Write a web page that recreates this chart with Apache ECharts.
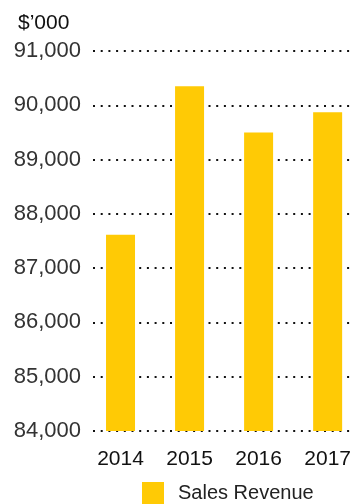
<!DOCTYPE html>
<html>
<head>
<meta charset="utf-8">
<script src="https://cdn.jsdelivr.net/npm/echarts@6/dist/echarts.min.js"></script>
<style>
html,body{margin:0;padding:0;background:#fff;}
#chart{width:354px;height:504px;}
</style>
</head>
<body>
<div id="chart"></div>
<script>
const categories = ['2014', '2015', '2016', '2017'];
const salesRevenue = [87615, 90350, 89500, 89870];
const seriesName = 'Sales Revenue';
const unitLabel = '$\u2019000';
const yMin = 84000, yMax = 91000, yStep = 1000;

const font = "'Liberation Sans', Arial, Helvetica, sans-serif";
const barData = categories.map((c, i) => [i, salesRevenue[i]]);
const chart = echarts.init(document.getElementById('chart'), null, {renderer: 'canvas'});
chart.setOption({
  animation: false,
  backgroundColor: '#fff',
  title: {
    text: unitLabel,
    left: 18, top: 13, padding: 0,
    textStyle: {fontFamily: font, fontSize: 21, fontWeight: 'normal', color: '#111'}
  },
  legend: {
    data: [seriesName],
    left: 142, top: 482, padding: 0,
    icon: 'rect',
    itemWidth: 22, itemHeight: 22,
    textStyle: {fontFamily: font, fontSize: 20, color: '#222', padding: [0, 0, 0, 9]}
  },
  grid: [
    {left: 93, right: 0, top: 51, height: 380, containLabel: false},
    {left: 86, right: 0, top: 51, height: 380, containLabel: false}
  ],
  xAxis: [
    {gridIndex: 0, type: 'category', data: categories, show: false},
    {gridIndex: 1, type: 'value', min: -0.5, max: -0.5 + 268 / 70, interval: 0.5,
      axisLine: {show: false}, axisTick: {show: false}, splitLine: {show: false},
      axisLabel: {fontFamily: font, fontSize: 21, color: '#111', margin: 18,
        showMaxLabel: false, showMinLabel: false, hideOverlap: false,
        formatter: v => (Number.isInteger(v) && categories[v]) ? categories[v] : ''}}
  ],
  yAxis: [
    {gridIndex: 0, type: 'value', min: yMin, max: yMax, interval: yStep,
      axisLine: {show: false}, axisTick: {show: false},
      axisLabel: {fontFamily: font, fontSize: 22, color: '#333', margin: 12,
        formatter: v => v.toLocaleString('en-US')},
      splitLine: {show: true, lineStyle: {color: '#111', width: 2, type: [2, 5.7]}}
    },
    {gridIndex: 1, type: 'value', min: yMin, max: yMax, interval: yStep, show: false,
      splitLine: {show: false}}
  ],
  series: [{
    name: seriesName,
    type: 'bar',
    xAxisIndex: 1, yAxisIndex: 1,
    data: barData,
    barWidth: 29,
    clip: true,
    itemStyle: {color: '#FFCA05'},
    z: 5
  }]
});
</script>
</body>
</html>
